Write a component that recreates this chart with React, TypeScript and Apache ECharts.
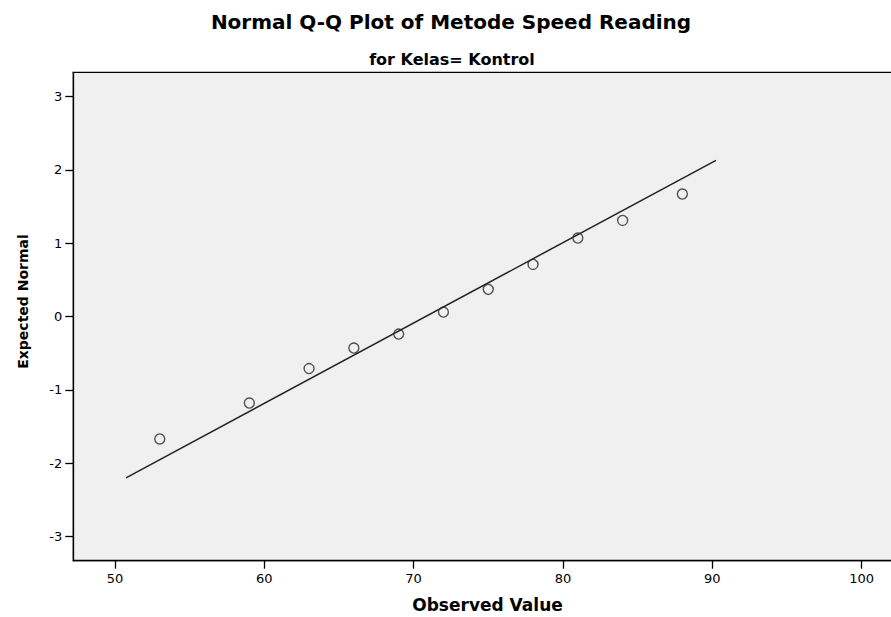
import React, { useEffect, useRef } from "react";
import * as echarts from "echarts";

// Observed values (x) and expected normal quantiles (y)
const observedValues = [53, 59, 63, 66, 69, 72, 75, 78, 81, 84, 88];
const expectedNormal = [-1.67, -1.18, -0.71, -0.43, -0.24, 0.06, 0.37, 0.71, 1.07, 1.31, 1.67];

// Reference line endpoints (x, y)
const refLineX = [50.74, 90.25];
const refLineY = [-2.2, 2.13];

// Tick labels
const xTicks = [50, 60, 70, 80, 90, 100];
const yTicks = [-3, -2, -1, 0, 1, 2, 3];

const titleText = "Normal Q-Q Plot of Metode Speed Reading";
const subtitleText = "for Kelas= Kontrol";
const xName = "Observed Value";
const yName = "Expected Normal";

export default function App() {
  const ref = useRef<HTMLDivElement>(null);
  useEffect(() => {
    if (!ref.current) return;
    const chart = echarts.init(ref.current, null, { renderer: "svg" });
    const font = "DejaVu Sans";
    chart.setOption({
      animation: false,
      backgroundColor: "#ffffff",
      title: [
        {
          text: titleText,
          left: 451,
          textAlign: "center",
          top: 11.7,
          padding: 0,
          textStyle: { fontFamily: font, fontSize: 20, fontWeight: "bold", color: "#000" },
        },
        {
          text: subtitleText,
          left: 452,
          textAlign: "center",
          top: 51,
          padding: 0,
          textStyle: { fontFamily: font, fontSize: 16, fontWeight: "bold", color: "#000" },
        },
      ],
      grid: {
        left: 73.3,
        top: 72.3,
        width: 828.4,
        height: 488.4,
        show: true,
        backgroundColor: "#f0f0f0",
        borderColor: "#000",
        borderWidth: 1.3,
        containLabel: false,
        outerBoundsMode: "none",
      },
      xAxis: {
        type: "value",
        min: 47.21,
        max: 102.69,
        name: xName,
        nameLocation: "middle",
        nameGap: 36,
        nameTextStyle: { fontFamily: font, fontSize: 17, fontWeight: "bold", color: "#000" },
        splitLine: { show: false },
        axisLine: { show: true, onZero: false, lineStyle: { color: "#000", width: 1.3 } },
        axisTick: { show: true, length: 8, customValues: xTicks, lineStyle: { color: "#000", width: 1.3 } },
        axisLabel: {
          customValues: xTicks,
          margin: 11,
          fontFamily: font,
          fontSize: 13,
          color: "#000",
        },
      },
      yAxis: {
        type: "value",
        min: -3.33,
        max: 3.33,
        name: yName,
        nameLocation: "middle",
        nameRotate: 90,
        nameGap: 43,
        nameTextStyle: {
          fontFamily: font,
          fontSize: 14,
          fontWeight: "bold",
          color: "#000",
          padding: [0, 0, 0, 30],
        },
        splitLine: { show: false },
        axisLine: { show: true, onZero: false, lineStyle: { color: "#000", width: 1.3 } },
        axisTick: { show: true, length: 8, customValues: yTicks, lineStyle: { color: "#000", width: 1.3 } },
        axisLabel: {
          customValues: yTicks,
          margin: 11,
          fontFamily: font,
          fontSize: 13,
          color: "#000",
        },
      },
      series: [
        {
          type: "line",
          data: refLineX.map((x, i) => [x, refLineY[i]]),
          symbol: "none",
          lineStyle: { color: "#222", width: 1.5 },
          silent: true,
          z: 2,
        },
        {
          type: "scatter",
          data: observedValues.map((x, i) => [x, expectedNormal[i]]),
          symbol: "circle",
          symbolSize: 10,
          itemStyle: { color: "rgba(0,0,0,0)", borderColor: "#2a2a2a", borderWidth: 1.4 },
          z: 3,
        },
      ],
    });
    return () => chart.dispose();
  }, []);
  return (
    <div
      ref={ref}
      style={{ position: "absolute", left: 0, top: 0, width: 891, height: 617 }}
    />
  );
}
